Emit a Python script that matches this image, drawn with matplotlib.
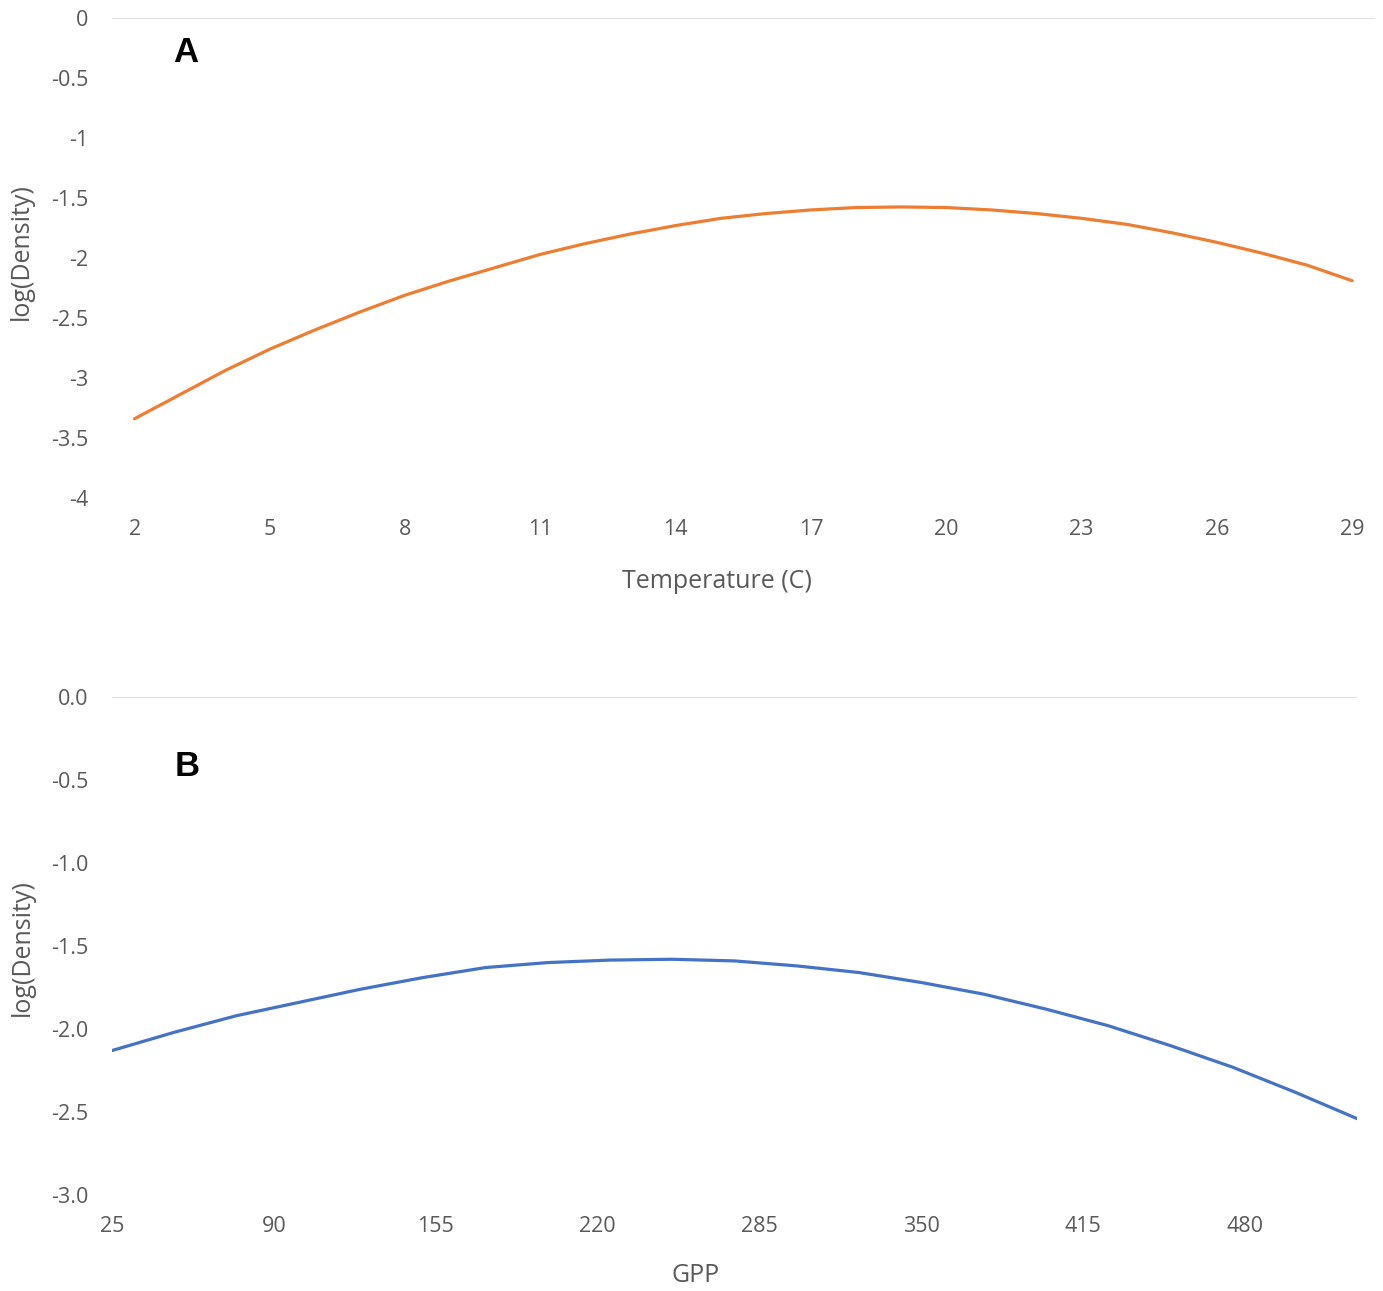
import matplotlib
matplotlib.use("Agg")
import matplotlib.pyplot as plt
import numpy as np

plt.rcParams["font.family"] = ["Open Sans", "DejaVu Sans"]

# Panel A: temperature categories (C) and log density
temperature = list(range(2, 30))
temp_log_density = [
    -3.34, -3.14, -2.94, -2.76, -2.60, -2.45, -2.31, -2.19, -2.08, -1.97,
    -1.88, -1.80, -1.73, -1.67, -1.63, -1.60, -1.58, -1.575, -1.58, -1.60,
    -1.63, -1.67, -1.72, -1.79, -1.87, -1.96, -2.06, -2.19,
]
temp_ticks = [2, 5, 8, 11, 14, 17, 20, 23, 26, 29]
temp_yticks = [0, -0.5, -1, -1.5, -2, -2.5, -3, -3.5, -4]

# Panel B: GPP and log density
gpp = [25, 50, 75, 100, 125, 150, 175, 200, 225, 250, 275, 300, 325,
       350, 375, 400, 425, 450, 475, 500, 525]
gpp_log_density = [
    -2.13, -2.02, -1.92, -1.84, -1.76, -1.69, -1.63, -1.60, -1.585, -1.58,
    -1.59, -1.62, -1.66, -1.72, -1.79, -1.88, -1.98, -2.10, -2.23, -2.38,
    -2.54,
]
gpp_ticks = [25, 90, 155, 220, 285, 350, 415, 480]
gpp_yticks = [0.0, -0.5, -1.0, -1.5, -2.0, -2.5, -3.0]

ORANGE = "#ED7D31"
BLUE = "#4472C4"
TICK_GREY = "#595959"
LINE_GREY = "#D9D9D9"


def style_axes(ax):
    for side in ["top", "right", "bottom", "left"]:
        ax.spines[side].set_visible(False)
    ax.tick_params(length=0, labelsize=15.5, colors=TICK_GREY)
    ax.tick_params(axis="x", pad=15)
    ax.tick_params(axis="y", pad=17)
    ax.axhline(0, color=LINE_GREY, linewidth=1.2, zorder=0)


fig = plt.figure(figsize=(13.83, 12.91), dpi=100)

# Panel A
ax_a = fig.add_axes([0.081, 0.6143, 0.913, 0.3718])
style_axes(ax_a)
idx = np.arange(len(temperature))
ax_a.plot(idx, temp_log_density, color=ORANGE, linewidth=2.3, solid_capstyle="round")
ax_a.set_xlim(-0.5, len(temperature) - 0.5)
ax_a.set_ylim(-4, 0)
ax_a.set_xticks([temperature.index(t) for t in temp_ticks])
ax_a.set_xticklabels([str(t) for t in temp_ticks])
ax_a.set_yticks(temp_yticks)
ax_a.set_yticklabels(["0", "-0.5", "-1", "-1.5", "-2", "-2.5", "-3", "-3.5", "-4"])
ax_a.set_xlabel("Temperature (C)", fontsize=18, color=TICK_GREY)
ax_a.xaxis.set_label_coords(0.479, -0.148)
ax_a.set_ylabel("log(Density)", fontsize=18, color=TICK_GREY)
ax_a.yaxis.set_label_coords(-0.062, 0.5125)
fig.text(186 / 1383, 1 - 52 / 1291, "A", fontsize=25, fontweight="bold",
         ha="center", va="center", family="Liberation Sans")

# Panel B
ax_b = fig.add_axes([0.081, 0.0744, 0.9002, 0.3857])
style_axes(ax_b)
ax_b.plot(gpp, gpp_log_density, color=BLUE, linewidth=2.3, solid_capstyle="round")
ax_b.set_xlim(gpp[0], gpp[-1])
ax_b.set_ylim(-3, 0)
ax_b.set_xticks(gpp_ticks)
ax_b.set_xticklabels([str(t) for t in gpp_ticks])
ax_b.set_yticks(gpp_yticks)
ax_b.set_yticklabels([f"{v:.1f}" for v in gpp_yticks])
ax_b.set_xlabel("GPP", fontsize=18, color=TICK_GREY)
ax_b.xaxis.set_label_coords(0.469, -0.137)
ax_b.set_ylabel("log(Density)", fontsize=18, color=TICK_GREY)
ax_b.yaxis.set_label_coords(-0.062, 0.496)
fig.text(187 / 1383, 1 - 767 / 1291, "B", fontsize=25, fontweight="bold",
         ha="center", va="center", family="Liberation Sans")

fig.savefig("out.png", dpi=100)
plt.close(fig)
